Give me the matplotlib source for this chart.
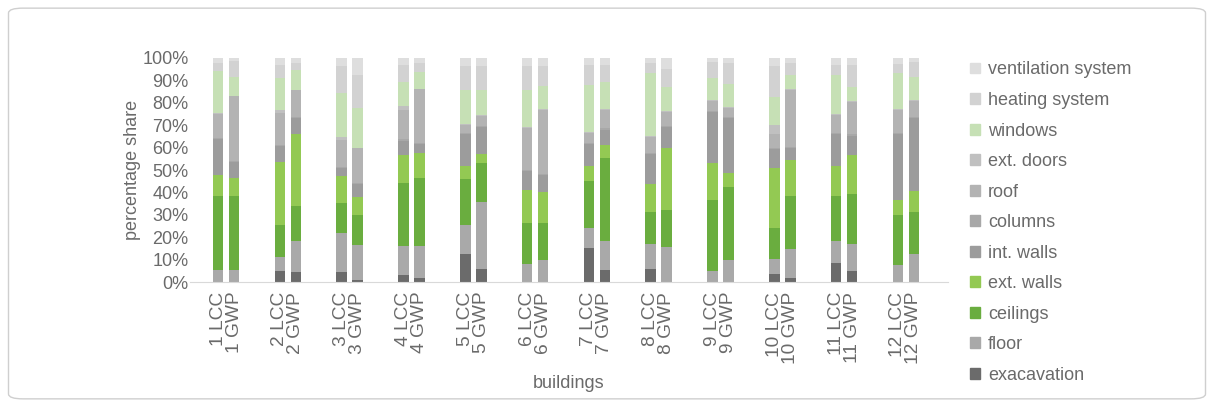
"""Stacked percentage shares of LCC and GWP per building component."""

import numpy as np
import matplotlib.pyplot as plt
from matplotlib.patches import FancyBboxPatch, Patch

plt.rcParams["font.family"] = ["Liberation Sans", "DejaVu Sans"]

# bar labels, two bars per building
labels = []
for b in range(1, 13):
    labels += [f"{b} LCC", f"{b} GWP"]

components = ["exacavation", "floor", "ceilings", "ext. walls", "int. walls",
              "columns", "roof", "ext. doors", "windows", "heating system",
              "ventilation system"]

# shares in %, order: 1 LCC, 1 GWP, 2 LCC, 2 GWP, ...
exacavation = [0.0, 0.0, 4.9, 4.5, 4.5, 1.0, 3.3, 1.8, 12.7, 5.8, 0.0, 0.0,
               15.2, 5.2, 5.7, 0.0, 0.0, 0.0, 3.4, 1.9, 8.7, 4.9, 0.0, 0.0]
floor = [5.2, 5.2, 6.3, 13.9, 17.4, 15.4, 12.7, 14.2, 12.7, 30.2, 8.2, 9.7,
         9.1, 13.0, 11.5, 15.7, 4.8, 9.7, 7.0, 13.0, 9.7, 12.3, 7.5, 12.4]
ceilings = [33.2, 33.2, 14.2, 15.5, 13.6, 13.5, 28.0, 30.3, 20.9, 17.6, 18.2, 16.7,
            20.9, 37.3, 14.1, 16.4, 32.2, 32.8, 13.8, 23.6, 20.4, 22.4, 22.8, 19.2]
ext_walls = [9.4, 8.2, 28.3, 32.2, 11.8, 8.2, 12.7, 11.2, 5.8, 3.9, 15.1, 13.9,
             6.9, 6.0, 12.7, 28.0, 16.4, 6.3, 26.5, 16.3, 13.1, 17.6, 6.7, 9.1]
int_walls = [15.9, 7.0, 7.0, 7.2, 3.7, 5.5, 6.4, 4.0, 14.3, 11.9, 8.2, 7.8,
             9.8, 6.9, 13.5, 9.3, 22.7, 24.8, 8.7, 5.2, 14.5, 8.5, 29.4, 32.7]
columns = [0.5, 0.5, 0.5, 0.5, 0.5, 0.5, 0.5, 0.5, 0.5, 0.5, 0.5, 0.5,
           0.5, 0.5, 0.5, 0.5, 0.5, 0.5, 0.5, 0.5, 0.5, 0.5, 0.5, 0.5]
roof = [10.7, 29.0, 14.2, 12.0, 11.9, 15.6, 13.2, 24.3, 3.7, 4.7, 18.9, 28.7,
        4.5, 8.4, 6.9, 6.5, 4.4, 4.0, 6.2, 25.8, 8.2, 14.4, 10.4, 7.4]
ext_doors = [0.5, 0.0, 1.2, 0.0, 1.5, 0.0, 1.9, 0.0, 0.5, 0.5, 0.5, 0.5,
             0.5, 0.5, 0.5, 0.5, 0.5, 0.5, 4.0, 0.5, 0.5, 0.5, 0.5, 0.5]
windows = [18.6, 8.2, 14.4, 8.7, 19.4, 17.9, 10.5, 7.3, 15.2, 11.2, 16.7, 10.3,
           20.9, 11.8, 28.4, 10.6, 10.0, 10.4, 12.7, 6.2, 17.4, 6.4, 16.0, 10.2]
heating = [3.8, 7.2, 6.0, 3.3, 12.0, 14.9, 7.7, 4.2, 10.5, 10.5, 10.5, 8.7,
           9.2, 7.9, 4.5, 8.1, 7.0, 9.3, 13.5, 5.3, 4.5, 10.0, 4.2, 6.5]
ventilation = [2.2, 1.5, 3.0, 2.2, 3.7, 7.5, 3.0, 2.2, 3.7, 3.7, 3.7, 3.7,
               3.0, 3.0, 2.2, 4.9, 2.0, 2.2, 3.7, 2.2, 3.0, 3.0, 2.5, 2.0]

series = [exacavation, floor, ceilings, ext_walls, int_walls, columns, roof,
          ext_doors, windows, heating, ventilation]
colors = ["#6b6b6b", "#a9a9a9", "#6aad3f", "#93c953", "#9c9c9c", "#a8a8a8",
          "#b3b3b3", "#c0c0c0", "#c6e0b5", "#d2d2d2", "#dedede"]

TXT = "#6a6a6a"
FS = 13

# bar positions: LCC and GWP side by side, gap between buildings
x = []
for b in range(12):
    x += [b * 3.86, b * 3.86 + 1.0]
x = np.array(x)

fig = plt.figure(figsize=(12.14, 4.07), dpi=100)
ax = fig.add_axes([0.1565, 0.307, 0.6245, 0.5505])

data = np.array(series, dtype=float)
data = data / data.sum(axis=0) * 100   # normalise each bar to 100 %
bottom = np.zeros(len(x))
for vals, col in zip(data, colors):
    ax.bar(x, vals / 100, 0.66, bottom=bottom, color=col, linewidth=0)
    bottom += vals / 100

ax.set_xlim(-1.75, 45.6)
ax.set_ylim(0, 1)
ax.set_yticks(np.arange(0, 1.01, 0.1))
ax.set_yticklabels([f"{int(round(v * 100))}%" for v in np.arange(0, 1.01, 0.1)],
                   fontsize=FS, color=TXT)
ax.set_xticks(x)
ax.set_xticklabels(labels, rotation=90, fontsize=13.8, color=TXT)
ax.tick_params(axis="y", length=0, pad=1)
ax.tick_params(axis="x", length=0, pad=7)
for s in ["top", "right", "left"]:
    ax.spines[s].set_visible(False)
ax.spines["bottom"].set_color("#d9d9d9")
ax.set_ylabel("percentage share", fontsize=FS, color=TXT, labelpad=1)
ax.set_xlabel("buildings", fontsize=FS, color=TXT, labelpad=8)

handles = [Patch(color=c, label=n) for n, c in zip(components, colors)]
fig.legend(handles=handles[::-1], loc="upper left",
           bbox_to_anchor=(0.7855, 0.889), frameon=False, fontsize=FS,
           labelcolor=TXT, handlelength=0.55, handleheight=0.55,
           handletextpad=0.45, labelspacing=0.75)

frame = FancyBboxPatch((0.007, 0.02), 0.986, 0.96,
                       boxstyle="round,pad=0,rounding_size=0.012",
                       transform=fig.transFigure, fill=False,
                       edgecolor="#cfcfcf", linewidth=1)
fig.patches.append(frame)

fig.savefig("out.png", dpi=100)
